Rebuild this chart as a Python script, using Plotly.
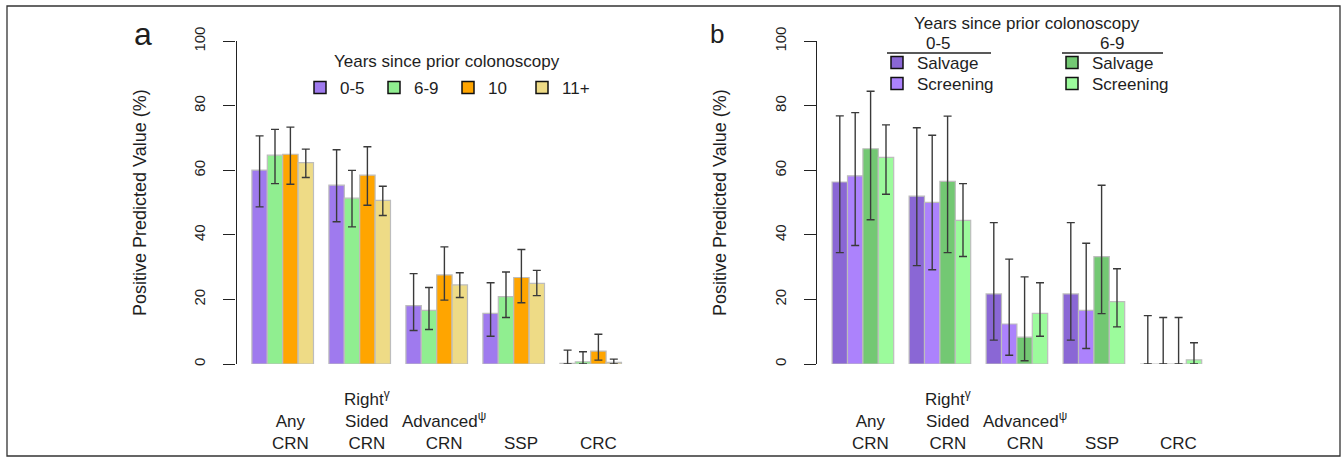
import plotly.graph_objects as go

W, H = 1342, 457

# ---------------- data ----------------
categories = ["Any CRN", "Right Sided CRN", "Advanced CRN", "SSP", "CRC"]
cat_labels = ["Any<br>CRN", "Right<sup>γ</sup><br>Sided<br>CRN", "Advanced<sup>ψ</sup><br>CRN", "SSP", "CRC"]

# Panel a: years since prior colonoscopy
a_names = ["0-5", "6-9", "10", "11+"]
a_val_0_5 = [60.1, 55.4, 18.1, 15.7, 0.2]
a_hi_0_5 = [70.7, 66.4, 28.0, 25.2, 4.3]
a_lo_0_5 = [48.7, 44.1, 10.4, 8.6, 0.0]
a_val_6_9 = [64.7, 51.4, 16.6, 20.9, 0.7]
a_hi_6_9 = [72.7, 60.0, 23.7, 28.5, 3.8]
a_lo_6_9 = [55.9, 42.5, 10.7, 14.4, 0.0]
a_val_10 = [65.0, 58.5, 27.6, 26.8, 4.0]
a_hi_10 = [73.4, 67.3, 36.3, 35.5, 9.2]
a_lo_10 = [55.7, 49.2, 19.8, 19.0, 1.2]
a_val_11p = [62.4, 50.7, 24.5, 25.0, 0.5]
a_hi_11p = [66.6, 55.1, 28.3, 29.0, 1.5]
a_lo_11p = [57.8, 46.0, 20.6, 21.2, 0.0]

# Panel b: salvage vs screening within 0-5 and 6-9 years
b_names = ["Salvage", "Screening", "Salvage", "Screening"]
b_groups = ["0-5", "0-5", "6-9", "6-9"]
b_val_05_salv = [56.4, 52.0, 21.7, 21.7, 0.0]
b_hi_05_salv = [76.9, 73.2, 43.8, 43.8, 15.0]
b_lo_05_salv = [34.5, 30.5, 7.4, 7.4, 0.0]
b_val_05_scr = [58.3, 50.1, 12.4, 16.6, 0.0]
b_hi_05_scr = [77.9, 70.9, 32.5, 37.4, 14.4]
b_lo_05_scr = [36.7, 29.2, 2.7, 4.8, 0.0]
b_val_69_salv = [66.7, 56.6, 8.3, 33.3, 0.0]
b_hi_69_salv = [84.5, 76.8, 27.0, 55.4, 14.4]
b_lo_69_salv = [44.7, 34.5, 1.0, 15.6, 0.0]
b_val_69_scr = [64.0, 44.5, 15.7, 19.3, 1.3]
b_hi_69_scr = [74.1, 55.9, 25.2, 29.5, 6.6]
b_lo_69_scr = [52.6, 33.3, 8.6, 11.5, 0.0]

y_ticks = [0, 20, 40, 60, 80, 100]

# ---------------- style ----------------
a_colors = ["#9F7AEE", "#90EE90", "#FFA500", "#EEDB86"]
b_colors = ["#8A67D5", "#AC82FC", "#73C873", "#9CFB9C"]
FONT = "Liberation Sans, Arial, Helvetica, sans-serif"
TXT = "#1e1e1e"
BAR_EDGE = "#BDBDBD"
ERR = "#3a3a3a"


def px(x):
    return x / W


def py(y):
    return 1 - y / H


a_series = [
    (a_val_0_5, a_hi_0_5, a_lo_0_5),
    (a_val_6_9, a_hi_6_9, a_lo_6_9),
    (a_val_10, a_hi_10, a_lo_10),
    (a_val_11p, a_hi_11p, a_lo_11p),
]
b_series = [
    (b_val_05_salv, b_hi_05_salv, b_lo_05_salv),
    (b_val_05_scr, b_hi_05_scr, b_lo_05_scr),
    (b_val_69_salv, b_hi_69_salv, b_lo_69_salv),
    (b_val_69_scr, b_hi_69_scr, b_lo_69_scr),
]

n_series = 4
group_span = n_series + 1  # bars + one bar-width gap


def positions(k):
    return [g * group_span + 1 + k + 0.5 for g in range(len(categories))]


fig = go.Figure()


def add_panel(series, colors, names, xa, ya, legends):
    for k, (vals, hi, lo) in enumerate(series):
        fig.add_trace(go.Bar(
            x=positions(k), y=vals, width=1.0,
            marker=dict(color=colors[k], line=dict(color=BAR_EDGE, width=1.2)),
            error_y=dict(type="data", symmetric=False,
                         array=[h - v for h, v in zip(hi, vals)],
                         arrayminus=[v - l for v, l in zip(vals, lo)],
                         color=ERR, thickness=1.4, width=4),
            xaxis=xa, yaxis=ya, showlegend=False, hoverinfo="skip",
        ))
        # legend entry (dark-edged box as in the original)
        fig.add_trace(go.Bar(
            x=[None], y=[None], name=names[k],
            marker=dict(color=colors[k], line=dict(color="#111111", width=1.5)),
            xaxis=xa, yaxis=ya, legend=legends[k], showlegend=True,
        ))


add_panel(a_series, a_colors, a_names, "x", "y", ["legend"] * 4)
add_panel(b_series, b_colors, b_names, "x2", "y2", ["legend2", "legend3", "legend4", "legend5"])

unit = 15.4
ax_a = 236.5
ax_b = 816.7
xr = [0, 26]
y_dom = [py(364), py(41.3)]

common_x = dict(range=xr, showline=False, showgrid=False, zeroline=False,
                showticklabels=False, ticks="", fixedrange=True)
common_y = dict(range=[0, 100], tickvals=y_ticks, showline=True, linecolor="#222",
                linewidth=1.4, ticks="outside", ticklen=12, tickwidth=1.4, tickcolor="#222",
                tickangle=-90, tickfont=dict(family=FONT, size=15, color=TXT),
                showgrid=False, zeroline=False, automargin=False, domain=y_dom,
                ticklabelstandoff=12)

LEG_FONT = dict(family=FONT, size=17, color=TXT)


def small_legend(xp, yp):
    return dict(orientation="v", x=px(xp), y=py(yp), xanchor="left", yanchor="middle",
                bgcolor="rgba(0,0,0,0)", font=LEG_FONT, itemclick=False)


fig.update_layout(
    width=W, height=H,
    margin=dict(l=0, r=0, t=0, b=0),
    paper_bgcolor="white", plot_bgcolor="white",
    barmode="overlay",
    font=dict(family=FONT, color=TXT),
    xaxis=dict(domain=[px(ax_a), px(ax_a + unit * 26)], anchor="y", **common_x),
    yaxis=dict(anchor="x", **common_y),
    xaxis2=dict(domain=[px(ax_b), px(ax_b + unit * 26)], anchor="y2", **common_x),
    yaxis2=dict(anchor="x2", **common_y),
    legend=dict(orientation="h", x=px(300), y=py(88), xanchor="left", yanchor="middle",
                entrywidth=29, entrywidthmode="pixels", bgcolor="rgba(0,0,0,0)",
                font=LEG_FONT, itemclick=False, traceorder="normal"),
    legend2=small_legend(877, 63),
    legend3=small_legend(877, 84),
    legend4=small_legend(1052, 63),
    legend5=small_legend(1052, 84),
)

ann = []
# category labels under each panel
for xa in ["x", "x2"]:
    for g, lab in enumerate(cat_labels):
        ann.append(dict(x=g * group_span + 1 + n_series / 2 + 0.5, y=py(455), xref=xa, yref="paper",
                        text=lab, showarrow=False, yanchor="bottom", xanchor="center",
                        align="center", font=dict(family=FONT, size=17, color=TXT)))
# y-axis titles
for xc in [140, 720]:
    ann.append(dict(x=px(xc), y=py(203), xref="paper", yref="paper",
                    text="Positive Predicted Value (%)", textangle=-90, showarrow=False,
                    xanchor="center", yanchor="middle",
                    font=dict(family=FONT, size=18, color=TXT)))
# panel letters
ann.append(dict(x=px(143), y=py(34), xref="paper", yref="paper", text="a", showarrow=False,
                xanchor="center", yanchor="middle", font=dict(family=FONT, size=32, color=TXT)))
ann.append(dict(x=px(717), y=py(34), xref="paper", yref="paper", text="b", showarrow=False,
                xanchor="center", yanchor="middle", font=dict(family=FONT, size=26, color=TXT)))
# legend titles
ann.append(dict(x=px(447), y=py(62), xref="paper", yref="paper", text="Years since prior colonoscopy",
                showarrow=False, xanchor="center", yanchor="middle",
                font=dict(family=FONT, size=17, color=TXT)))
ann.append(dict(x=px(1027), y=py(23), xref="paper", yref="paper", text="Years since prior colonoscopy",
                showarrow=False, xanchor="center", yanchor="middle",
                font=dict(family=FONT, size=17, color=TXT)))
for xc, t in [(938, b_groups[0]), (1112, b_groups[2])]:
    ann.append(dict(x=px(xc), y=py(43), xref="paper", yref="paper", text=t,
                    showarrow=False, xanchor="center", yanchor="middle",
                    font=dict(family=FONT, size=17, color=TXT)))
fig.update_layout(annotations=ann)

shapes = [
    dict(type="line", xref="paper", yref="paper", x0=px(887), x1=px(991), y0=py(53), y1=py(53),
         line=dict(color="#222", width=1.4)),
    dict(type="line", xref="paper", yref="paper", x0=px(1062), x1=px(1163), y0=py(53), y1=py(53),
         line=dict(color="#222", width=1.4)),
    dict(type="rect", xref="paper", yref="paper", x0=px(7), x1=px(1340), y0=py(456), y1=py(6),
         line=dict(color="#333", width=1.3)),
]
fig.update_layout(shapes=shapes)

fig.write_html("out.html", config={"displayModeBar": False},
               post_script="document.body.style.margin='0';document.body.style.overflow='hidden';")
